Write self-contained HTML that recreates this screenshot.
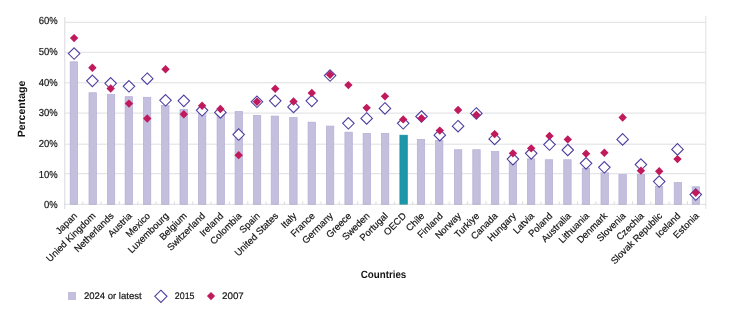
<!DOCTYPE html><html><head><meta charset="utf-8"><style>html,body{margin:0;padding:0;background:#fff;width:730px;height:318px;overflow:hidden}svg{display:block;will-change:transform}text{font-family:"Liberation Sans",sans-serif;text-rendering:geometricPrecision}</style></head><body>
<svg width="730" height="318" viewBox="0 0 730 318">
<rect width="730" height="318" fill="#fff"/>
<line x1="64.5" y1="173.70" x2="705.8" y2="173.70" stroke="#dcdfe2" stroke-width="1"/>
<line x1="64.5" y1="144.20" x2="705.8" y2="144.20" stroke="#dcdfe2" stroke-width="1"/>
<line x1="64.5" y1="113.10" x2="705.8" y2="113.10" stroke="#dcdfe2" stroke-width="1"/>
<line x1="64.5" y1="82.80" x2="705.8" y2="82.80" stroke="#dcdfe2" stroke-width="1"/>
<line x1="64.5" y1="52.30" x2="705.8" y2="52.30" stroke="#dcdfe2" stroke-width="1"/>
<line x1="64.5" y1="22.30" x2="705.8" y2="22.30" stroke="#dcdfe2" stroke-width="1"/>
<line x1="64.7" y1="17" x2="64.7" y2="209" stroke="#e2e4e8" stroke-width="1.4"/>
<line x1="705.8" y1="16" x2="705.8" y2="209" stroke="#dfe2e5" stroke-width="1"/>
<line x1="82.82" y1="201.30" x2="82.82" y2="204.30" stroke="#dcdfe2" stroke-width="1"/>
<line x1="101.15" y1="201.30" x2="101.15" y2="204.30" stroke="#dcdfe2" stroke-width="1"/>
<line x1="119.47" y1="201.30" x2="119.47" y2="204.30" stroke="#dcdfe2" stroke-width="1"/>
<line x1="137.79" y1="201.30" x2="137.79" y2="204.30" stroke="#dcdfe2" stroke-width="1"/>
<line x1="156.11" y1="201.30" x2="156.11" y2="204.30" stroke="#dcdfe2" stroke-width="1"/>
<line x1="174.44" y1="201.30" x2="174.44" y2="204.30" stroke="#dcdfe2" stroke-width="1"/>
<line x1="192.76" y1="201.30" x2="192.76" y2="204.30" stroke="#dcdfe2" stroke-width="1"/>
<line x1="211.08" y1="201.30" x2="211.08" y2="204.30" stroke="#dcdfe2" stroke-width="1"/>
<line x1="229.41" y1="201.30" x2="229.41" y2="204.30" stroke="#dcdfe2" stroke-width="1"/>
<line x1="247.73" y1="201.30" x2="247.73" y2="204.30" stroke="#dcdfe2" stroke-width="1"/>
<line x1="266.05" y1="201.30" x2="266.05" y2="204.30" stroke="#dcdfe2" stroke-width="1"/>
<line x1="284.37" y1="201.30" x2="284.37" y2="204.30" stroke="#dcdfe2" stroke-width="1"/>
<line x1="302.70" y1="201.30" x2="302.70" y2="204.30" stroke="#dcdfe2" stroke-width="1"/>
<line x1="321.02" y1="201.30" x2="321.02" y2="204.30" stroke="#dcdfe2" stroke-width="1"/>
<line x1="339.34" y1="201.30" x2="339.34" y2="204.30" stroke="#dcdfe2" stroke-width="1"/>
<line x1="357.67" y1="201.30" x2="357.67" y2="204.30" stroke="#dcdfe2" stroke-width="1"/>
<line x1="375.99" y1="201.30" x2="375.99" y2="204.30" stroke="#dcdfe2" stroke-width="1"/>
<line x1="394.31" y1="201.30" x2="394.31" y2="204.30" stroke="#dcdfe2" stroke-width="1"/>
<line x1="412.63" y1="201.30" x2="412.63" y2="204.30" stroke="#dcdfe2" stroke-width="1"/>
<line x1="430.96" y1="201.30" x2="430.96" y2="204.30" stroke="#dcdfe2" stroke-width="1"/>
<line x1="449.28" y1="201.30" x2="449.28" y2="204.30" stroke="#dcdfe2" stroke-width="1"/>
<line x1="467.60" y1="201.30" x2="467.60" y2="204.30" stroke="#dcdfe2" stroke-width="1"/>
<line x1="485.93" y1="201.30" x2="485.93" y2="204.30" stroke="#dcdfe2" stroke-width="1"/>
<line x1="504.25" y1="201.30" x2="504.25" y2="204.30" stroke="#dcdfe2" stroke-width="1"/>
<line x1="522.57" y1="201.30" x2="522.57" y2="204.30" stroke="#dcdfe2" stroke-width="1"/>
<line x1="540.89" y1="201.30" x2="540.89" y2="204.30" stroke="#dcdfe2" stroke-width="1"/>
<line x1="559.22" y1="201.30" x2="559.22" y2="204.30" stroke="#dcdfe2" stroke-width="1"/>
<line x1="577.54" y1="201.30" x2="577.54" y2="204.30" stroke="#dcdfe2" stroke-width="1"/>
<line x1="595.86" y1="201.30" x2="595.86" y2="204.30" stroke="#dcdfe2" stroke-width="1"/>
<line x1="614.19" y1="201.30" x2="614.19" y2="204.30" stroke="#dcdfe2" stroke-width="1"/>
<line x1="632.51" y1="201.30" x2="632.51" y2="204.30" stroke="#dcdfe2" stroke-width="1"/>
<line x1="650.83" y1="201.30" x2="650.83" y2="204.30" stroke="#dcdfe2" stroke-width="1"/>
<line x1="669.15" y1="201.30" x2="669.15" y2="204.30" stroke="#dcdfe2" stroke-width="1"/>
<line x1="687.48" y1="201.30" x2="687.48" y2="204.30" stroke="#dcdfe2" stroke-width="1"/>
<text transform="translate(57.7,208.30) scale(0.93,1)" font-size="10.2" fill="#111" stroke="#111" stroke-width="0.18" text-anchor="end">0%</text>
<text transform="translate(57.7,177.63) scale(0.93,1)" font-size="10.2" fill="#111" stroke="#111" stroke-width="0.18" text-anchor="end">10%</text>
<text transform="translate(57.7,146.96) scale(0.93,1)" font-size="10.2" fill="#111" stroke="#111" stroke-width="0.18" text-anchor="end">20%</text>
<text transform="translate(57.7,116.29) scale(0.93,1)" font-size="10.2" fill="#111" stroke="#111" stroke-width="0.18" text-anchor="end">30%</text>
<text transform="translate(57.7,85.62) scale(0.93,1)" font-size="10.2" fill="#111" stroke="#111" stroke-width="0.18" text-anchor="end">40%</text>
<text transform="translate(57.7,54.95) scale(0.93,1)" font-size="10.2" fill="#111" stroke="#111" stroke-width="0.18" text-anchor="end">50%</text>
<text transform="translate(57.7,24.28) scale(0.93,1)" font-size="10.2" fill="#111" stroke="#111" stroke-width="0.18" text-anchor="end">60%</text>
<rect x="70.15" y="61.80" width="7.40" height="142.50" fill="#c3bfdd" stroke="#b4aed6" stroke-width="0.7"/>
<rect x="89.00" y="92.73" width="7.40" height="111.57" fill="#c3bfdd" stroke="#b4aed6" stroke-width="0.7"/>
<rect x="107.35" y="94.55" width="7.40" height="109.75" fill="#c3bfdd" stroke="#b4aed6" stroke-width="0.7"/>
<rect x="125.10" y="96.68" width="7.40" height="107.62" fill="#c3bfdd" stroke="#b4aed6" stroke-width="0.7"/>
<rect x="143.40" y="97.28" width="7.40" height="107.02" fill="#c3bfdd" stroke="#b4aed6" stroke-width="0.7"/>
<rect x="161.60" y="105.47" width="7.40" height="98.83" fill="#c3bfdd" stroke="#b4aed6" stroke-width="0.7"/>
<rect x="180.00" y="109.41" width="7.40" height="94.89" fill="#c3bfdd" stroke="#b4aed6" stroke-width="0.7"/>
<rect x="198.45" y="112.75" width="7.40" height="91.55" fill="#c3bfdd" stroke="#b4aed6" stroke-width="0.7"/>
<rect x="217.05" y="113.66" width="7.40" height="90.64" fill="#c3bfdd" stroke="#b4aed6" stroke-width="0.7"/>
<rect x="235.05" y="111.54" width="7.40" height="92.76" fill="#c3bfdd" stroke="#b4aed6" stroke-width="0.7"/>
<rect x="253.35" y="115.48" width="7.40" height="88.82" fill="#c3bfdd" stroke="#b4aed6" stroke-width="0.7"/>
<rect x="271.20" y="116.09" width="7.40" height="88.21" fill="#c3bfdd" stroke="#b4aed6" stroke-width="0.7"/>
<rect x="289.70" y="117.60" width="7.40" height="86.70" fill="#c3bfdd" stroke="#b4aed6" stroke-width="0.7"/>
<rect x="308.05" y="122.15" width="7.40" height="82.15" fill="#c3bfdd" stroke="#b4aed6" stroke-width="0.7"/>
<rect x="326.40" y="126.10" width="7.40" height="78.20" fill="#c3bfdd" stroke="#b4aed6" stroke-width="0.7"/>
<rect x="344.90" y="132.16" width="7.40" height="72.14" fill="#c3bfdd" stroke="#b4aed6" stroke-width="0.7"/>
<rect x="363.10" y="133.37" width="7.40" height="70.93" fill="#c3bfdd" stroke="#b4aed6" stroke-width="0.7"/>
<rect x="381.40" y="133.37" width="7.40" height="70.93" fill="#c3bfdd" stroke="#b4aed6" stroke-width="0.7"/>
<rect x="399.90" y="135.19" width="7.40" height="69.11" fill="#1b97a8" stroke="#14899b" stroke-width="0.7"/>
<rect x="417.30" y="139.44" width="7.40" height="64.86" fill="#c3bfdd" stroke="#b4aed6" stroke-width="0.7"/>
<rect x="435.50" y="140.35" width="7.40" height="63.95" fill="#c3bfdd" stroke="#b4aed6" stroke-width="0.7"/>
<rect x="454.40" y="149.75" width="7.40" height="54.55" fill="#c3bfdd" stroke="#b4aed6" stroke-width="0.7"/>
<rect x="472.80" y="149.75" width="7.40" height="54.55" fill="#c3bfdd" stroke="#b4aed6" stroke-width="0.7"/>
<rect x="491.40" y="151.57" width="7.40" height="52.73" fill="#c3bfdd" stroke="#b4aed6" stroke-width="0.7"/>
<rect x="509.20" y="156.12" width="7.40" height="48.18" fill="#c3bfdd" stroke="#b4aed6" stroke-width="0.7"/>
<rect x="527.40" y="158.85" width="7.40" height="45.45" fill="#c3bfdd" stroke="#b4aed6" stroke-width="0.7"/>
<rect x="545.25" y="159.76" width="7.40" height="44.54" fill="#c3bfdd" stroke="#b4aed6" stroke-width="0.7"/>
<rect x="563.75" y="159.76" width="7.40" height="44.54" fill="#c3bfdd" stroke="#b4aed6" stroke-width="0.7"/>
<rect x="582.25" y="168.25" width="7.40" height="36.05" fill="#c3bfdd" stroke="#b4aed6" stroke-width="0.7"/>
<rect x="601.00" y="172.80" width="7.40" height="31.50" fill="#c3bfdd" stroke="#b4aed6" stroke-width="0.7"/>
<rect x="618.90" y="174.62" width="7.40" height="29.68" fill="#c3bfdd" stroke="#b4aed6" stroke-width="0.7"/>
<rect x="637.30" y="174.62" width="7.40" height="29.68" fill="#c3bfdd" stroke="#b4aed6" stroke-width="0.7"/>
<rect x="655.35" y="186.45" width="7.40" height="17.85" fill="#c3bfdd" stroke="#b4aed6" stroke-width="0.7"/>
<rect x="674.20" y="182.51" width="7.40" height="21.79" fill="#c3bfdd" stroke="#b4aed6" stroke-width="0.7"/>
<rect x="692.15" y="186.76" width="7.40" height="17.54" fill="#c3bfdd" stroke="#b4aed6" stroke-width="0.7"/>
<line x1="64.5" y1="204.30" x2="705.8" y2="204.30" stroke="#a9adb5" stroke-opacity="0.4" stroke-width="1"/>
<path d="M74.11 47.81L79.86 53.56L74.11 59.31L68.36 53.56Z" fill="#fff" stroke="#4d3f9f" stroke-width="1.1"/>
<path d="M92.39 75.11L98.14 80.86L92.39 86.61L86.64 80.86Z" fill="#fff" stroke="#4d3f9f" stroke-width="1.1"/>
<path d="M110.67 77.53L116.42 83.28L110.67 89.03L104.92 83.28Z" fill="#fff" stroke="#4d3f9f" stroke-width="1.1"/>
<path d="M128.96 80.57L134.71 86.32L128.96 92.07L123.21 86.32Z" fill="#fff" stroke="#4d3f9f" stroke-width="1.1"/>
<path d="M147.24 72.98L152.99 78.73L147.24 84.48L141.49 78.73Z" fill="#fff" stroke="#4d3f9f" stroke-width="1.1"/>
<path d="M165.53 94.52L171.28 100.27L165.53 106.02L159.78 100.27Z" fill="#fff" stroke="#4d3f9f" stroke-width="1.1"/>
<path d="M183.81 95.12L189.56 100.87L183.81 106.62L178.06 100.87Z" fill="#fff" stroke="#4d3f9f" stroke-width="1.1"/>
<path d="M202.10 104.53L207.85 110.28L202.10 116.03L196.35 110.28Z" fill="#fff" stroke="#4d3f9f" stroke-width="1.1"/>
<path d="M220.38 106.65L226.13 112.40L220.38 118.15L214.63 112.40Z" fill="#fff" stroke="#4d3f9f" stroke-width="1.1"/>
<path d="M238.66 128.79L244.41 134.54L238.66 140.29L232.91 134.54Z" fill="#fff" stroke="#4d3f9f" stroke-width="1.1"/>
<path d="M256.95 96.03L262.70 101.78L256.95 107.53L251.20 101.78Z" fill="#fff" stroke="#4d3f9f" stroke-width="1.1"/>
<path d="M275.23 95.12L280.98 100.87L275.23 106.62L269.48 100.87Z" fill="#fff" stroke="#4d3f9f" stroke-width="1.1"/>
<path d="M293.52 101.19L299.27 106.94L293.52 112.69L287.77 106.94Z" fill="#fff" stroke="#4d3f9f" stroke-width="1.1"/>
<path d="M311.80 95.12L317.55 100.87L311.80 106.62L306.05 100.87Z" fill="#fff" stroke="#4d3f9f" stroke-width="1.1"/>
<path d="M330.08 69.80L335.83 75.55L330.08 81.30L324.33 75.55Z" fill="#fff" stroke="#4d3f9f" stroke-width="1.1"/>
<path d="M348.37 117.57L354.12 123.32L348.37 129.07L342.62 123.32Z" fill="#fff" stroke="#4d3f9f" stroke-width="1.1"/>
<path d="M366.65 112.72L372.40 118.47L366.65 124.22L360.90 118.47Z" fill="#fff" stroke="#4d3f9f" stroke-width="1.1"/>
<path d="M384.94 102.71L390.69 108.46L384.94 114.21L379.19 108.46Z" fill="#fff" stroke="#4d3f9f" stroke-width="1.1"/>
<path d="M403.22 117.57L408.97 123.32L403.22 129.07L397.47 123.32Z" fill="#fff" stroke="#4d3f9f" stroke-width="1.1"/>
<path d="M421.51 110.74L427.26 116.49L421.51 122.24L415.76 116.49Z" fill="#fff" stroke="#4d3f9f" stroke-width="1.1"/>
<path d="M439.79 129.40L445.54 135.15L439.79 140.90L434.04 135.15Z" fill="#fff" stroke="#4d3f9f" stroke-width="1.1"/>
<path d="M458.07 120.45L463.82 126.20L458.07 131.95L452.32 126.20Z" fill="#fff" stroke="#4d3f9f" stroke-width="1.1"/>
<path d="M476.36 107.71L482.11 113.46L476.36 119.21L470.61 113.46Z" fill="#fff" stroke="#4d3f9f" stroke-width="1.1"/>
<path d="M494.64 133.19L500.39 138.94L494.64 144.69L488.89 138.94Z" fill="#fff" stroke="#4d3f9f" stroke-width="1.1"/>
<path d="M512.93 153.36L518.68 159.11L512.93 164.86L507.18 159.11Z" fill="#fff" stroke="#4d3f9f" stroke-width="1.1"/>
<path d="M531.21 147.60L536.96 153.35L531.21 159.10L525.46 153.35Z" fill="#fff" stroke="#4d3f9f" stroke-width="1.1"/>
<path d="M549.50 138.80L555.25 144.55L549.50 150.30L543.75 144.55Z" fill="#fff" stroke="#4d3f9f" stroke-width="1.1"/>
<path d="M567.78 144.26L573.53 150.01L567.78 155.76L562.03 150.01Z" fill="#fff" stroke="#4d3f9f" stroke-width="1.1"/>
<path d="M586.06 157.60L591.81 163.35L586.06 169.10L580.31 163.35Z" fill="#fff" stroke="#4d3f9f" stroke-width="1.1"/>
<path d="M604.35 161.55L610.10 167.30L604.35 173.05L598.60 167.30Z" fill="#fff" stroke="#4d3f9f" stroke-width="1.1"/>
<path d="M622.63 133.64L628.38 139.39L622.63 145.14L616.88 139.39Z" fill="#fff" stroke="#4d3f9f" stroke-width="1.1"/>
<path d="M640.92 158.82L646.67 164.57L640.92 170.32L635.17 164.57Z" fill="#fff" stroke="#4d3f9f" stroke-width="1.1"/>
<path d="M659.20 175.80L664.95 181.55L659.20 187.30L653.45 181.55Z" fill="#fff" stroke="#4d3f9f" stroke-width="1.1"/>
<path d="M677.48 143.65L683.23 149.40L677.48 155.15L671.73 149.40Z" fill="#fff" stroke="#4d3f9f" stroke-width="1.1"/>
<path d="M695.77 188.84L701.52 194.59L695.77 200.34L690.02 194.59Z" fill="#fff" stroke="#4d3f9f" stroke-width="1.1"/>
<path d="M74.11 33.89L78.31 38.09L74.11 42.29L69.91 38.09Z" fill="#c01a5c"/>
<path d="M92.39 63.62L96.59 67.82L92.39 72.02L88.19 67.82Z" fill="#c01a5c"/>
<path d="M110.67 84.24L114.87 88.44L110.67 92.64L106.47 88.44Z" fill="#c01a5c"/>
<path d="M128.96 99.40L133.16 103.60L128.96 107.80L124.76 103.60Z" fill="#c01a5c"/>
<path d="M147.24 114.27L151.44 118.47L147.24 122.67L143.04 118.47Z" fill="#c01a5c"/>
<path d="M165.53 64.98L169.73 69.18L165.53 73.38L161.33 69.18Z" fill="#c01a5c"/>
<path d="M183.81 110.02L188.01 114.22L183.81 118.42L179.61 114.22Z" fill="#c01a5c"/>
<path d="M202.10 101.53L206.30 105.73L202.10 109.93L197.90 105.73Z" fill="#c01a5c"/>
<path d="M220.38 104.86L224.58 109.06L220.38 113.26L216.18 109.06Z" fill="#c01a5c"/>
<path d="M238.66 150.97L242.86 155.17L238.66 159.37L234.46 155.17Z" fill="#c01a5c"/>
<path d="M256.95 97.58L261.15 101.78L256.95 105.98L252.75 101.78Z" fill="#c01a5c"/>
<path d="M275.23 84.54L279.43 88.74L275.23 92.94L271.03 88.74Z" fill="#c01a5c"/>
<path d="M293.52 97.28L297.72 101.48L293.52 105.68L289.32 101.48Z" fill="#c01a5c"/>
<path d="M311.80 88.79L316.00 92.99L311.80 97.19L307.60 92.99Z" fill="#c01a5c"/>
<path d="M330.08 70.59L334.28 74.79L330.08 78.99L325.88 74.79Z" fill="#c01a5c"/>
<path d="M348.37 80.90L352.57 85.10L348.37 89.30L344.17 85.10Z" fill="#c01a5c"/>
<path d="M366.65 103.65L370.85 107.85L366.65 112.05L362.45 107.85Z" fill="#c01a5c"/>
<path d="M384.94 92.13L389.14 96.33L384.94 100.53L380.74 96.33Z" fill="#c01a5c"/>
<path d="M403.22 115.18L407.42 119.38L403.22 123.58L399.02 119.38Z" fill="#c01a5c"/>
<path d="M421.51 114.11L425.71 118.31L421.51 122.51L417.31 118.31Z" fill="#c01a5c"/>
<path d="M439.79 126.40L443.99 130.60L439.79 134.80L435.59 130.60Z" fill="#c01a5c"/>
<path d="M458.07 105.77L462.27 109.97L458.07 114.17L453.87 109.97Z" fill="#c01a5c"/>
<path d="M476.36 110.63L480.56 114.83L476.36 119.03L472.16 114.83Z" fill="#c01a5c"/>
<path d="M494.64 129.89L498.84 134.09L494.64 138.29L490.44 134.09Z" fill="#c01a5c"/>
<path d="M512.93 149.15L517.13 153.35L512.93 157.55L508.73 153.35Z" fill="#c01a5c"/>
<path d="M531.21 144.14L535.41 148.34L531.21 152.54L527.01 148.34Z" fill="#c01a5c"/>
<path d="M549.50 131.86L553.70 136.06L549.50 140.26L545.30 136.06Z" fill="#c01a5c"/>
<path d="M567.78 135.19L571.98 139.39L567.78 143.59L563.58 139.39Z" fill="#c01a5c"/>
<path d="M586.06 149.45L590.26 153.65L586.06 157.85L581.86 153.65Z" fill="#c01a5c"/>
<path d="M604.35 148.54L608.55 152.74L604.35 156.94L600.15 152.74Z" fill="#c01a5c"/>
<path d="M622.63 113.36L626.83 117.56L622.63 121.76L618.43 117.56Z" fill="#c01a5c"/>
<path d="M640.92 166.43L645.12 170.63L640.92 174.83L636.72 170.63Z" fill="#c01a5c"/>
<path d="M659.20 167.04L663.40 171.24L659.20 175.44L655.00 171.24Z" fill="#c01a5c"/>
<path d="M677.48 154.91L681.68 159.11L677.48 163.31L673.28 159.11Z" fill="#c01a5c"/>
<path d="M695.77 188.57L699.97 192.77L695.77 196.97L691.57 192.77Z" fill="#c01a5c"/>
<text transform="translate(77.71,216.50) rotate(-45)" font-size="9.5" fill="#111" stroke="#111" stroke-width="0.18" text-anchor="end">Japan</text>
<text transform="translate(95.99,216.50) rotate(-45)" font-size="9.5" fill="#111" stroke="#111" stroke-width="0.18" text-anchor="end">Unied Kingdom</text>
<text transform="translate(114.27,216.50) rotate(-45)" font-size="9.5" fill="#111" stroke="#111" stroke-width="0.18" text-anchor="end">Netherlands</text>
<text transform="translate(132.56,216.50) rotate(-45)" font-size="9.5" fill="#111" stroke="#111" stroke-width="0.18" text-anchor="end">Austria</text>
<text transform="translate(150.84,216.50) rotate(-45)" font-size="9.5" fill="#111" stroke="#111" stroke-width="0.18" text-anchor="end">Mexico</text>
<text transform="translate(169.13,216.50) rotate(-45)" font-size="9.5" fill="#111" stroke="#111" stroke-width="0.18" text-anchor="end">Luxembourg</text>
<text transform="translate(187.41,216.50) rotate(-45)" font-size="9.5" fill="#111" stroke="#111" stroke-width="0.18" text-anchor="end">Belgium</text>
<text transform="translate(205.70,216.50) rotate(-45)" font-size="9.5" fill="#111" stroke="#111" stroke-width="0.18" text-anchor="end">Switzerland</text>
<text transform="translate(223.98,216.50) rotate(-45)" font-size="9.5" fill="#111" stroke="#111" stroke-width="0.18" text-anchor="end">Ireland</text>
<text transform="translate(242.26,216.50) rotate(-45)" font-size="9.5" fill="#111" stroke="#111" stroke-width="0.18" text-anchor="end">Colombia</text>
<text transform="translate(260.55,216.50) rotate(-45)" font-size="9.5" fill="#111" stroke="#111" stroke-width="0.18" text-anchor="end">Spain</text>
<text transform="translate(278.83,216.50) rotate(-45)" font-size="9.5" fill="#111" stroke="#111" stroke-width="0.18" text-anchor="end">United States</text>
<text transform="translate(297.12,216.50) rotate(-45)" font-size="9.5" fill="#111" stroke="#111" stroke-width="0.18" text-anchor="end">Italy</text>
<text transform="translate(315.40,216.50) rotate(-45)" font-size="9.5" fill="#111" stroke="#111" stroke-width="0.18" text-anchor="end">France</text>
<text transform="translate(333.68,216.50) rotate(-45)" font-size="9.5" fill="#111" stroke="#111" stroke-width="0.18" text-anchor="end">Germany</text>
<text transform="translate(351.97,216.50) rotate(-45)" font-size="9.5" fill="#111" stroke="#111" stroke-width="0.18" text-anchor="end">Greece</text>
<text transform="translate(370.25,216.50) rotate(-45)" font-size="9.5" fill="#111" stroke="#111" stroke-width="0.18" text-anchor="end">Sweden</text>
<text transform="translate(388.54,216.50) rotate(-45)" font-size="9.5" fill="#111" stroke="#111" stroke-width="0.18" text-anchor="end">Portugal</text>
<text transform="translate(406.82,216.50) rotate(-45)" font-size="9.5" fill="#111" stroke="#111" stroke-width="0.18" text-anchor="end">OECD</text>
<text transform="translate(425.11,216.50) rotate(-45)" font-size="9.5" fill="#111" stroke="#111" stroke-width="0.18" text-anchor="end">Chile</text>
<text transform="translate(443.39,216.50) rotate(-45)" font-size="9.5" fill="#111" stroke="#111" stroke-width="0.18" text-anchor="end">Finland</text>
<text transform="translate(461.67,216.50) rotate(-45)" font-size="9.5" fill="#111" stroke="#111" stroke-width="0.18" text-anchor="end">Norway</text>
<text transform="translate(479.96,216.50) rotate(-45)" font-size="9.5" fill="#111" stroke="#111" stroke-width="0.18" text-anchor="end">Turkiye</text>
<text transform="translate(498.24,216.50) rotate(-45)" font-size="9.5" fill="#111" stroke="#111" stroke-width="0.18" text-anchor="end">Canada</text>
<text transform="translate(516.53,216.50) rotate(-45)" font-size="9.5" fill="#111" stroke="#111" stroke-width="0.18" text-anchor="end">Hungary</text>
<text transform="translate(534.81,216.50) rotate(-45)" font-size="9.5" fill="#111" stroke="#111" stroke-width="0.18" text-anchor="end">Latvia</text>
<text transform="translate(553.10,216.50) rotate(-45)" font-size="9.5" fill="#111" stroke="#111" stroke-width="0.18" text-anchor="end">Poland</text>
<text transform="translate(571.38,216.50) rotate(-45)" font-size="9.5" fill="#111" stroke="#111" stroke-width="0.18" text-anchor="end">Australia</text>
<text transform="translate(589.66,216.50) rotate(-45)" font-size="9.5" fill="#111" stroke="#111" stroke-width="0.18" text-anchor="end">Lithuania</text>
<text transform="translate(607.95,216.50) rotate(-45)" font-size="9.5" fill="#111" stroke="#111" stroke-width="0.18" text-anchor="end">Denmark</text>
<text transform="translate(626.23,216.50) rotate(-45)" font-size="9.5" fill="#111" stroke="#111" stroke-width="0.18" text-anchor="end">Slovenia</text>
<text transform="translate(644.52,216.50) rotate(-45)" font-size="9.5" fill="#111" stroke="#111" stroke-width="0.18" text-anchor="end">Czechia</text>
<text transform="translate(662.80,216.50) rotate(-45)" font-size="9.5" fill="#111" stroke="#111" stroke-width="0.18" text-anchor="end">Slovak Republic</text>
<text transform="translate(681.08,216.50) rotate(-45)" font-size="9.5" fill="#111" stroke="#111" stroke-width="0.18" text-anchor="end">Iceland</text>
<text transform="translate(699.37,216.50) rotate(-45)" font-size="9.5" fill="#111" stroke="#111" stroke-width="0.18" text-anchor="end">Estonia</text>
<text transform="translate(24.7,109) rotate(-90)" font-size="10.5" font-weight="bold" fill="#111" text-anchor="middle">Percentage</text>
<text x="360.7" y="277.6" font-size="10.5" font-weight="bold" fill="#111" textLength="45.6" lengthAdjust="spacingAndGlyphs">Countries</text>
<rect x="68" y="292" width="8" height="8" fill="#c3bfdd"/>
<text x="84" y="299.2" font-size="9.5" fill="#111" stroke="#111" stroke-width="0.18">2024 or latest</text>
<path d="M160.9 290.2L167 296.3L160.9 302.4L154.8 296.3Z" fill="#fff" stroke="#4d3f9f" stroke-width="1.1"/>
<text x="174.8" y="299.2" font-size="9.5" fill="#111" stroke="#111" stroke-width="0.18" textLength="19.7" lengthAdjust="spacingAndGlyphs">2015</text>
<path d="M211 292L215.1 296.1L211 300.2L206.9 296.1Z" fill="#c01a5c"/>
<text x="222" y="299.2" font-size="9.5" fill="#111" stroke="#111" stroke-width="0.18" textLength="21.8" lengthAdjust="spacingAndGlyphs">2007</text>
</svg></body></html>
